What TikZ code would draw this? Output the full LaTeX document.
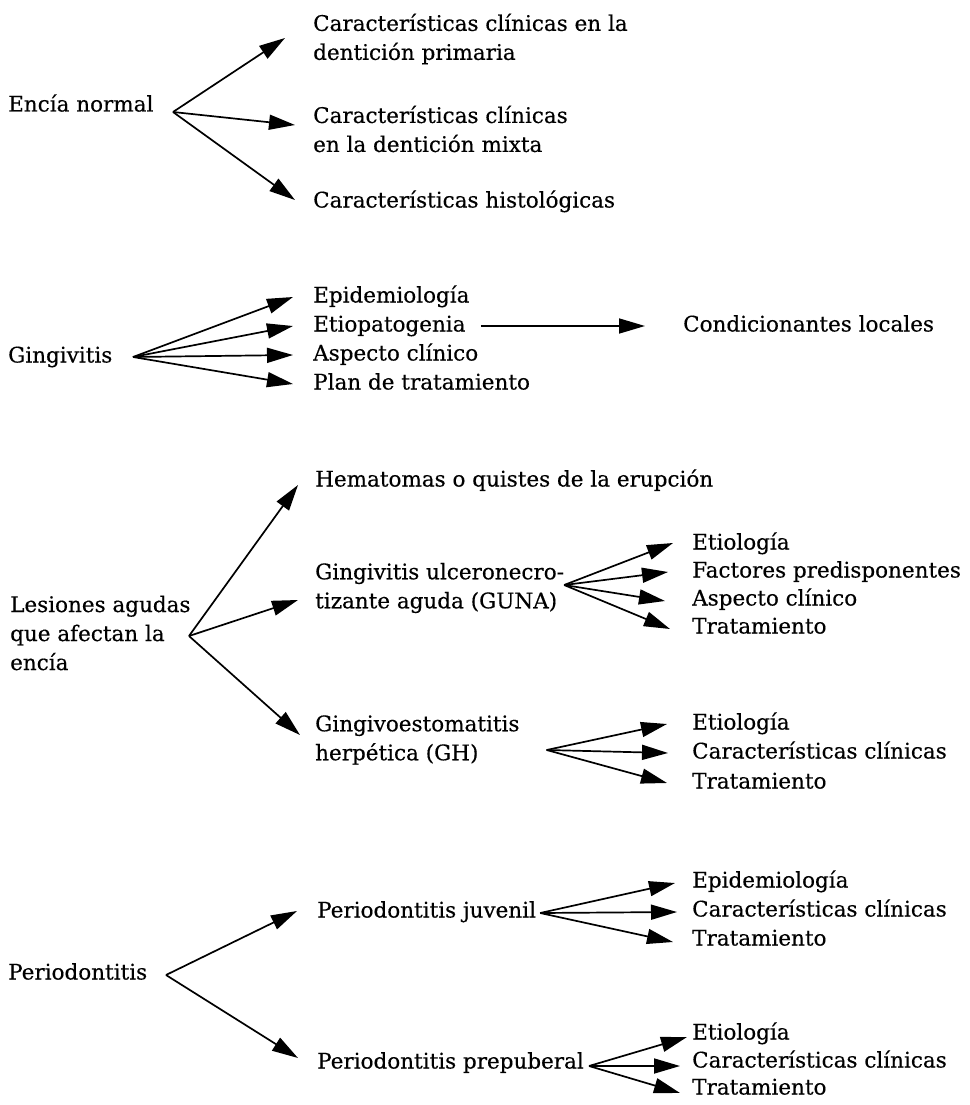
\documentclass[tikz,border=0pt]{standalone}
\usepackage{fontspec}
\setmainfont{DejaVu Serif}[FakeBold=0.4]
\usetikzlibrary{arrows.meta}
\begin{document}
\begin{tikzpicture}[x=1pt,y=-1pt,
  lbl/.style={anchor=west,inner sep=0pt,font=\fontsize{21.5}{29}\selectfont},
  one/.style={lbl,text height=16pt,text depth=5pt},
  multi/.style={lbl,align=left},
  arr/.style={-{Triangle[length=26pt,width=15pt]},line width=1.7pt}]
\useasboundingbox (0,0) rectangle (969,1105);

% --- Encía normal ---
\node[one] (enc) at (8,106) {Encía normal};
\node[multi] (enc1) at (313,39) {Características clínicas en la\\dentición primaria};
\node[multi] (enc2) at (313,129) {Características clínicas\\en la dentición mixta};
\node[one] (enc3) at (313,202) {Características histológicas};
\coordinate (encO) at (173,112);
\draw[arr] (encO) -- ([shift={(-28,-1)}]enc1.west);
\draw[arr] (encO) -- ([shift={(-18,-4)}]enc2.west);
\draw[arr] (encO) -- ([shift={(-18,-2)}]enc3.west);

% --- Gingivitis ---
\node[one] (gin) at (8,357) {Gingivitis};
\node[one] (gin1) at (313,297) {Epidemiología};
\node[one] (gin2) at (313,326) {Etiopatogenia};
\node[one] (gin3) at (313,355) {Aspecto clínico};
\node[one] (gin4) at (313,384) {Plan de tratamiento};
\node[one] (cond) at (683,326) {Condicionantes locales};
\coordinate (ginO) at (133,357);
\draw[arr] (ginO) -- ([xshift=-20]gin1.west);
\draw[arr] (ginO) -- ([xshift=-20]gin2.west);
\draw[arr] (ginO) -- ([xshift=-20]gin3.west);
\draw[arr] (ginO) -- ([xshift=-20]gin4.west);
\draw[arr] ([xshift=15]gin2.east) -- ([xshift=-38]cond.west);

% --- Lesiones agudas ---
\node[multi] (les) at (10,633) {Lesiones agudas\\que afectan la\\encía};
\node[one] (hem) at (315,481) {Hematomas o quistes de la erupción};
\node[multi] (guna) at (315,588) {Gingivitis ulceronecro-\\tizante aguda (GUNA)};
\node[multi] (gh) at (315,740) {Gingivoestomatitis\\herpética (GH)};
\coordinate (lesO) at (189,636);
\draw[arr] (lesO) -- ([shift={(-17,4)}]hem.west);
\draw[arr] (lesO) -- ([shift={(-17,12)}]guna.west);
\draw[arr] (lesO) -- ([shift={(-15,-5)}]gh.west);

% GUNA
\node[one] (guna1) at (692,544) {Etiología};
\node[one] (guna2) at (692,572) {Factores predisponentes};
\node[one] (guna3) at (692,600) {Aspecto clínico};
\node[one] (guna4) at (692,628) {Tratamiento};
\coordinate (gunaO) at ([shift={(0,-3)}]guna.east);
\draw[arr] (gunaO) -- ([shift={(-19,-1)}]guna1.west);
\draw[arr] (gunaO) -- ([shift={(-24,0)}]guna2.west);
\draw[arr] (gunaO) -- ([shift={(-27,1)}]guna3.west);
\draw[arr] (gunaO) -- ([shift={(-22,1)}]guna4.west);

% GH
\node[one] (gh1) at (692,724) {Etiología};
\node[one] (gh2) at (692,753) {Características clínicas};
\node[one] (gh3) at (692,783) {Tratamiento};
\coordinate (ghO) at ([shift={(27,10)}]gh.east);
\draw[arr] (ghO) -- ([xshift=-25]gh1.west);
\draw[arr] (ghO) -- ([xshift=-24]gh2.west);
\draw[arr] (ghO) -- ([xshift=-25]gh3.west);

% --- Periodontitis ---
\node[one] (per) at (8,974) {Periodontitis};
\node[one] (juv) at (317,912) {Periodontitis juvenil};
\node[one] (pre) at (317,1063) {Periodontitis prepuberal};
\coordinate (perO) at (166,975);
\draw[arr] (perO) -- ([shift={(-20,-1)}]juv.west);
\draw[arr] (perO) -- ([shift={(-19,-5)}]pre.west);

% juvenil
\node[one] (juv1) at (692,882) {Epidemiología};
\node[one] (juv2) at (692,911) {Características clínicas};
\node[one] (juv3) at (692,940) {Tratamiento};
\coordinate (juvO) at ([shift={(4,1)}]juv.east);
\draw[arr] (juvO) -- ([shift={(-17,1)}]juv1.west);
\draw[arr] (juvO) -- ([shift={(-15,1)}]juv2.west);
\draw[arr] (juvO) -- ([shift={(-19,2)}]juv3.west);

% prepuberal
\node[one] (pre1) at (692,1034) {Etiología};
\node[one] (pre2) at (692,1062) {Características clínicas};
\node[one] (pre3) at (692,1089) {Tratamiento};
\coordinate (preO) at ([shift={(5,3)}]pre.east);
\draw[arr] (preO) -- ([shift={(-5,3)}]pre1.west);
\draw[arr] (preO) -- ([shift={(-12,4)}]pre2.west);
\draw[arr] (preO) -- ([shift={(-12,4)}]pre3.west);
\end{tikzpicture}
\end{document}
